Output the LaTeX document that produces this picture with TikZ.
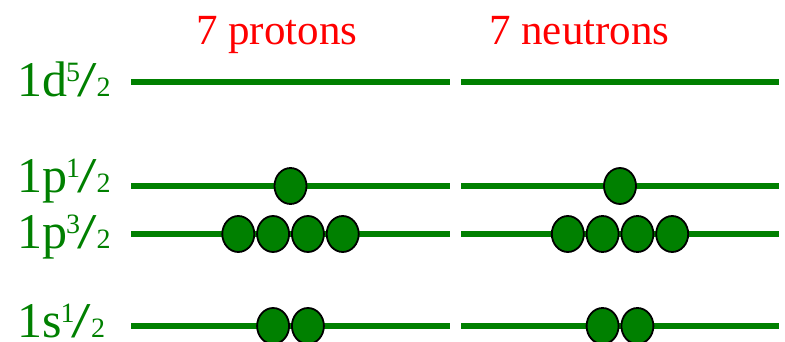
\documentclass[tikz,border=0pt]{standalone}
\usepackage{fontspec}
\setmainfont{Liberation Serif}
\usetikzlibrary{shapes.geometric}
\definecolor{lvgreen}{RGB}{0,128,0}
\newcommand\hfr[2]{\kern-1pt\raisebox{15pt}{\fontsize{28}{28}\selectfont #1}\kern-3pt\scalebox{1.4}[1]{/}\kern0pt{\fontsize{28}{28}\selectfont #2}}
\tikzset{
  level/.style={draw=lvgreen, line width=5.5pt},
  lab/.style={text=lvgreen, font=\rmfamily\fontsize{50}{52}\selectfont, inner sep=0pt, anchor=base west},
  title/.style={text=red, font=\rmfamily\fontsize{43}{46}\selectfont, inner sep=0pt, anchor=base west},
  nuc/.style={ellipse, draw=black, fill=lvgreen, line width=1.8pt, minimum width=32pt, minimum height=36pt, inner sep=0pt}
}
\begin{document}
\begin{tikzpicture}[x=1pt,y=-1pt]
\useasboundingbox (0,0) rectangle (785,342);
% titles
\node[title] (tp) at (196,45) {7 protons};
\node[title] (tn) at (489,45) {7 neutrons};
% labels
\node[lab] (ld) at (17,97) {1d\hfr{5}{2}};
\node[lab] (lp1) at (17,193) {1p\hfr{1}{2}};
\node[lab] (lp3) at (17,248) {1p\hfr{3}{2}};
\node[lab] (ls) at (17,337) {1s\hfr{1}{2}};
% level lines
\foreach \n/\y in {d/82,pa/186,pb/234,s/326}{
  \coordinate (L\n a) at (131,\y);
  \coordinate (L\n b) at (450,\y);
  \coordinate (R\n a) at (461,\y);
  \coordinate (R\n b) at (779,\y);
  \draw[level] (L\n a) -- (L\n b);
  \draw[level] (R\n a) -- (R\n b);
}
% nucleons
\foreach \side/\cx in {P/290.5,N/620}{
  \node[nuc] (\side pa) at (\cx,186) {};
  \node[nuc] (\side b1) at (\cx-52.2,234) {};
  \node[nuc] (\side b2) at (\cx-17.4,234) {};
  \node[nuc] (\side b3) at (\cx+17.4,234) {};
  \node[nuc] (\side b4) at (\cx+52.2,234) {};
  \node[nuc] (\side s1) at (\cx-17.4,326) {};
  \node[nuc] (\side s2) at (\cx+17.4,326) {};
}
\end{tikzpicture}
\end{document}
